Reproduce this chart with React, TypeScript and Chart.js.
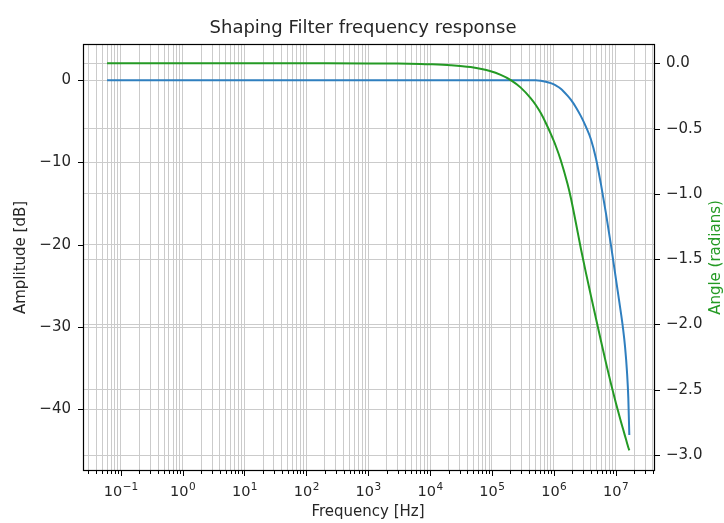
import React, { useEffect, useRef } from "react";
import { Chart, registerables } from "chart.js";

Chart.register(...registerables);

// ---- data ----
const freqHz = [
  0.06, 1, 100, 1e3, 3e3, 7.02e3, 1e4, 2.15e4, 4.53e4, 9.57e4, 1.39e5, 2.02e5, 2.93e5, 4.26e5,
  5.13e5, 6.18e5, 7.45e5, 8.97e5, 1.08e6, 1.3e6, 1.67e6, 1.89e6, 2.28e6, 2.75e6,
  3.31e6, 3.99e6, 4.81e6, 5.8e6, 6.98e6, 8.42e6, 1.014e7, 1.222e7, 1.318e7,
  1.42e7, 1.531e7, 1.607e7, 1.667e7,
];
const amplitudeDb = [
  0, 0, 0, 0, 0, 0, 0, 0, 0, 0, 0, 0, 0, 0,
  0, -0.06, -0.18, -0.36, -0.64, -1.03, -1.88, -2.37, -3.28, -4.37,
  -5.65, -7.17, -9.48, -12.64, -16.16, -20.05, -24.18, -28.31, -30.13,
  -32.32, -35.48, -38.64, -43.13,
];
const angleRad = [
  0, 0, 0, -0.0006, -0.002, -0.0045, -0.0064, -0.0138, -0.029, -0.061, -0.089, -0.128, -0.186, -0.268,
  -0.319, -0.381, -0.457, -0.541, -0.633, -0.742, -0.923, -1.029, -1.221, -1.42,
  -1.603, -1.779, -1.952, -2.124, -2.292, -2.453, -2.603, -2.744, -2.799,
  -2.853, -2.907, -2.942, -2.964,
];
const leftTicks = [-40, -30, -20, -10, 0];
const rightTicks = [-3.0, -2.5, -2.0, -1.5, -1.0, -0.5, 0.0];
const decadeExponents = [-1, 0, 1, 2, 3, 4, 5, 6, 7];

const TITLE = "Shaping Filter frequency response";
const X_LABEL = "Frequency [Hz]";
const Y_LABEL = "Amplitude [dB]";
const Y2_LABEL = "Angle (radians)";

const X_MIN = 0.0245;
const X_MAX = 4.34e7;
const Y_MIN = -47.5;
const Y_MAX = 4.4;
const Y2_MIN = -3.122;
const Y2_MAX = 0.148;

const BLUE = "#2f7fbf";
const GREEN = "#249a24";
const GRID = "#cbcbcb";
const TEXT = "#262626";
const FONT = "'DejaVu Sans', sans-serif";

const minus = (s: string) => s.replace("-", "\u2212");

const framePlugin = {
  id: "frame",
  afterDatasetsDraw(chart: any) {
    const { ctx, chartArea, scales } = chart;
    const { left, right, top, bottom } = chartArea;
    ctx.save();
    ctx.strokeStyle = "#000";
    ctx.lineWidth = 1;
    ctx.beginPath();
    for (const t of scales.x.ticks) {
      const px = Math.round(scales.x.getPixelForValue(t.value)) + 0.5;
      const len = t.major ? 5 : 3;
      ctx.moveTo(px, bottom);
      ctx.lineTo(px, bottom + len);
    }
    for (const t of scales.y.ticks) {
      const py = Math.round(scales.y.getPixelForValue(t.value)) + 0.5;
      ctx.moveTo(left - 5, py);
      ctx.lineTo(left, py);
    }
    for (const t of scales.y1.ticks) {
      const py = Math.round(scales.y1.getPixelForValue(t.value)) + 0.5;
      ctx.moveTo(right, py);
      ctx.lineTo(right + 5, py);
    }
    ctx.stroke();
    ctx.lineWidth = 1.2;
    ctx.strokeRect(left + 0.5, top + 0.5, right - left - 1, bottom - top - 1);

    // x decade labels: "10" with raised exponent
    ctx.fillStyle = TEXT;
    ctx.textBaseline = "alphabetic";
    ctx.textAlign = "left";
    const baseFont = `14.5px ${FONT}`;
    const expFont = `10.5px ${FONT}`;
    for (const e of decadeExponents) {
      const px = scales.x.getPixelForValue(Math.pow(10, e));
      const expStr = minus(String(e));
      ctx.font = baseFont;
      const w1 = ctx.measureText("10").width;
      ctx.font = expFont;
      const w2 = ctx.measureText(expStr).width;
      const x0 = px - (w1 + w2) / 2;
      ctx.font = baseFont;
      ctx.fillText("10", x0, 495.5);
      ctx.font = expFont;
      ctx.fillText(expStr, x0 + w1 + 0.5, 489.5);
    }

    ctx.textAlign = "center";
    ctx.font = `18px ${FONT}`;
    ctx.fillText(TITLE, 363, 33);
    ctx.font = `15px ${FONT}`;
    ctx.fillText(X_LABEL, 368, 516);

    ctx.textBaseline = "middle";
    ctx.save();
    ctx.translate(21, (top + bottom) / 2);
    ctx.rotate(-Math.PI / 2);
    ctx.fillText(Y_LABEL, 0, 0);
    ctx.restore();

    ctx.save();
    ctx.fillStyle = GREEN;
    ctx.translate(716, (top + bottom) / 2);
    ctx.rotate(-Math.PI / 2);
    ctx.fillText(Y2_LABEL, 0, 0);
    ctx.restore();
    ctx.restore();
  },
};

export default function App() {
  const canvasRef = useRef<HTMLCanvasElement | null>(null);

  useEffect(() => {
    const canvas = canvasRef.current;
    if (!canvas) return;
    const tickFont = { family: FONT, size: 15 };
    const chart = new Chart(canvas, {
      type: "line",
      data: {
        datasets: [
          {
            label: "Amplitude",
            data: freqHz.map((f, i) => ({ x: f, y: amplitudeDb[i] })),
            borderColor: BLUE,
            borderWidth: 2,
            pointRadius: 0,
            cubicInterpolationMode: "monotone",
            yAxisID: "y",
            order: 2,
          },
          {
            label: "Angle",
            data: freqHz.map((f, i) => ({ x: f, y: angleRad[i] })),
            borderColor: GREEN,
            borderWidth: 2,
            pointRadius: 0,
            cubicInterpolationMode: "monotone",
            yAxisID: "y1",
            order: 1,
          },
        ],
      },
      options: {
        responsive: false,
        animation: false,
        devicePixelRatio: 1,
        layout: { padding: { top: 44, left: 0, right: 0, bottom: 0 } },
        plugins: { legend: { display: false }, title: { display: false }, tooltip: { enabled: false } },
        scales: {
          x: {
            type: "logarithmic",
            min: X_MIN,
            max: X_MAX,
            afterBuildTicks: (scale: any) => {
              const ticks: any[] = [];
              for (let e = -2; e <= 7; e++) {
                for (let m = 1; m <= 9; m++) {
                  const v = m * Math.pow(10, e);
                  if (v >= X_MIN && v <= X_MAX) ticks.push({ value: v, major: m === 1 });
                }
              }
              scale.ticks = ticks;
            },
            afterFit: (scale: any) => { scale.height = 52; },
            ticks: {
              autoSkip: false,
              maxRotation: 0,
              minRotation: 0,
              color: TEXT,
              font: tickFont,
              callback: () => "",
            },
            grid: { color: GRID, lineWidth: 1, drawTicks: false },
            border: { display: false },
          },
          y: {
            type: "linear",
            position: "left",
            min: Y_MIN,
            max: Y_MAX,
            afterBuildTicks: (scale: any) => { scale.ticks = leftTicks.map((v) => ({ value: v })); },
            afterFit: (scale: any) => { scale.width = 83; },
            ticks: {
              padding: 12,
              color: TEXT,
              font: tickFont,
              callback: (v: any) => minus(String(v)),
            },
            grid: { color: GRID, lineWidth: 1, drawTicks: false },
            border: { display: false },
          },
          y1: {
            type: "linear",
            position: "right",
            min: Y2_MIN,
            max: Y2_MAX,
            afterBuildTicks: (scale: any) => { scale.ticks = rightTicks.map((v) => ({ value: v })); },
            afterFit: (scale: any) => { scale.width = 69; },
            ticks: {
              padding: 11,
              color: TEXT,
              font: tickFont,
              callback: (v: any) => minus(Number(v).toFixed(1)),
            },
            grid: { color: GRID, lineWidth: 1, drawTicks: false, drawOnChartArea: true },
            border: { display: false },
          },
        },
      },
      plugins: [framePlugin],
    } as any);
    return () => chart.destroy();
  }, []);

  return (
    <div style={{ position: "absolute", left: 0, top: 0, width: 724, height: 523, background: "#fff" }}>
      <canvas ref={canvasRef} width={724} height={523} />
    </div>
  );
}
